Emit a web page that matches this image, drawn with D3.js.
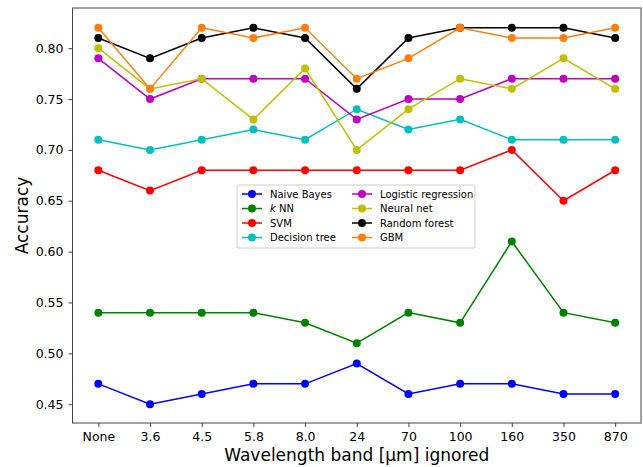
<!DOCTYPE html>
<html>
<head>
<meta charset="utf-8">
<script src="https://cdn.jsdelivr.net/npm/d3@7"></script>
<style>
  body { margin: 0; background: #fff; }
  text { font-family: "DejaVu Sans", sans-serif; }
</style>
</head>
<body>
<div id="plot"></div>
<script>
var bands = ["None", "3.6", "4.5", "5.8", "8.0", "24", "70", "100", "160", "350", "870"];
var yTicks = [0.45, 0.50, 0.55, 0.60, 0.65, 0.70, 0.75, 0.80];

var naiveBayes   = [0.47, 0.45, 0.46, 0.47, 0.47, 0.49, 0.46, 0.47, 0.47, 0.46, 0.46];
var knn          = [0.54, 0.54, 0.54, 0.54, 0.53, 0.51, 0.54, 0.53, 0.61, 0.54, 0.53];
var svmAcc       = [0.68, 0.66, 0.68, 0.68, 0.68, 0.68, 0.68, 0.68, 0.70, 0.65, 0.68];
var decisionTree = [0.71, 0.70, 0.71, 0.72, 0.71, 0.74, 0.72, 0.73, 0.71, 0.71, 0.71];
var logistic     = [0.79, 0.75, 0.77, 0.77, 0.77, 0.73, 0.75, 0.75, 0.77, 0.77, 0.77];
var neuralNet    = [0.80, 0.76, 0.77, 0.73, 0.78, 0.70, 0.74, 0.77, 0.76, 0.79, 0.76];
var randomForest = [0.81, 0.79, 0.81, 0.82, 0.81, 0.76, 0.81, 0.82, 0.82, 0.82, 0.81];
var gbm          = [0.82, 0.76, 0.82, 0.81, 0.82, 0.77, 0.79, 0.82, 0.81, 0.81, 0.82];

var series = [
    {name: "Naive Bayes", values: naiveBayes, color: "#0000ff"},
    {name: "k NN", values: knn, color: "#008000", italicK: true},
    {name: "SVM", values: svmAcc, color: "#ff0000"},
    {name: "Decision tree", values: decisionTree, color: "#00bfbf"},
    {name: "Logistic regression", values: logistic, color: "#bf00bf"},
    {name: "Neural net", values: neuralNet, color: "#bfbf00"},
    {name: "Random forest", values: randomForest, color: "#000000"},
    {name: "GBM", values: gbm, color: "#ff7f0e"}
];

var view = { w: 643, h: 467, left: 72.5, right: 641, top: 8, bottom: 423 };

var svg = d3.select("#plot").append("svg")
    .attr("width", view.w)
    .attr("height", view.h);

var xScale = d3.scalePoint()
    .domain(bands)
    .range([view.left, view.right])
    .padding(0.5);

var yScale = d3.scaleLinear()
    .domain([0.4315, 0.8395])
    .range([view.bottom, view.top]);

// axes
var xAxis = svg.append("g")
    .attr("transform", "translate(0," + view.bottom + ")")
    .call(d3.axisBottom(xScale).tickSize(4).tickPadding(5));
var yAxis = svg.append("g")
    .attr("transform", "translate(" + view.left + ",0)")
    .call(d3.axisLeft(yScale).tickValues(yTicks).tickFormat(d3.format(".2f")).tickSize(4).tickPadding(5));

[xAxis, yAxis].forEach(function(a){
    a.select(".domain").remove();
    a.selectAll("text").style("font-size", "12.5px").attr("fill", "#000");
    a.selectAll("line").attr("stroke", "#444");
});

// frame
svg.append("rect")
    .attr("x", view.left)
    .attr("y", view.top)
    .attr("width", view.right - view.left)
    .attr("height", view.bottom - view.top)
    .attr("fill", "none")
    .attr("stroke", "#444")
    .attr("stroke-width", 1);

var line = d3.line()
    .x(function(d, i){ return xScale(bands[i]); })
    .y(function(d){ return yScale(d); });

var g_lines = svg.append("g");
series.forEach(function(s){
    g_lines.append("path")
        .attr("d", line(s.values))
        .attr("fill", "none")
        .attr("stroke", s.color)
        .attr("stroke-width", 1.5);
    g_lines.selectAll(null)
        .data(s.values)
        .enter().append("circle")
        .attr("cx", function(d, i){ return xScale(bands[i]); })
        .attr("cy", function(d){ return yScale(d); })
        .attr("r", 4)
        .attr("fill", s.color);
});

// axis labels
svg.append("text")
    .attr("x", (view.left + view.right) / 2)
    .attr("y", 461)
    .attr("text-anchor", "middle")
    .style("font-size", "17px")
    .text("Wavelength band [μm] ignored");

svg.append("text")
    .attr("transform", "translate(28," + ((view.top + view.bottom) / 2) + ") rotate(-90)")
    .attr("text-anchor", "middle")
    .style("font-size", "17px")
    .text("Accuracy");

// legend
var legend = svg.append("g").attr("transform", "translate(237,185)");
legend.append("rect")
    .attr("width", 238)
    .attr("height", 63)
    .attr("rx", 2)
    .attr("fill", "#fff")
    .attr("fill-opacity", 0.8)
    .attr("stroke", "#ccc");

series.forEach(function(s, i){
    var col = Math.floor(i / 4), row = i % 4;
    var gx = 5 + col * 110, gy = 9 + row * 14.5;
    var item = legend.append("g").attr("transform", "translate(" + gx + "," + gy + ")");
    item.append("line")
        .attr("x1", 0).attr("x2", 20)
        .attr("stroke", s.color).attr("stroke-width", 1.5);
    item.append("circle").attr("cx", 10).attr("r", 4).attr("fill", s.color);
    var t = item.append("text")
        .attr("x", 28)
        .attr("dy", "0.35em")
        .style("font-size", "10px");
    if (s.italicK) {
        t.append("tspan").style("font-style", "italic").text("k");
        t.append("tspan").text(" NN");
    } else {
        t.text(s.name);
    }
});
</script>
</body>
</html>
